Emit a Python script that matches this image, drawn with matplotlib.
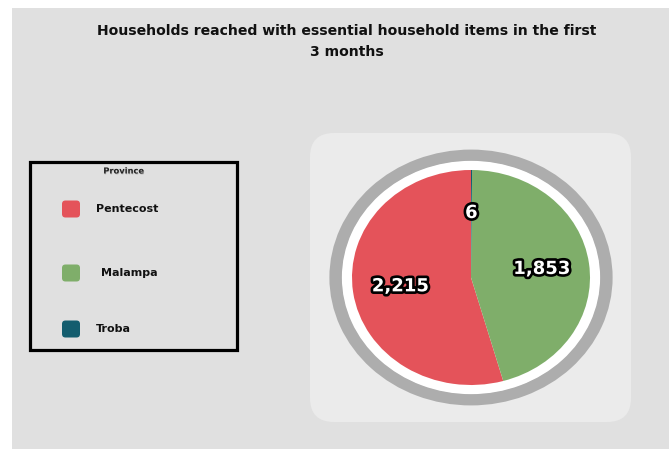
import matplotlib.pyplot as plt
import matplotlib.patheffects as pe
from matplotlib.patches import Rectangle, FancyBboxPatch
import numpy as np

provinces = ['Pentecost', 'Malampa', 'Troba']
households = [2215, 1853, 6]
colors = ['#e4535a', '#7fae6a', '#135d6e']
title = 'Households reached with essential household items in the first\n3 months'

W, H = 671, 449
fig = plt.figure(figsize=(W / 100, H / 100), dpi=100, facecolor='white')

# background layer in pixel coordinates
bg = fig.add_axes([0, 0, 1, 1])
bg.set_xlim(0, W)
bg.set_ylim(H, 0)
bg.axis('off')
bg.add_patch(Rectangle((12, 8), 657, 441, facecolor='#e0e0e0', edgecolor='none'))
bg.add_patch(FancyBboxPatch((310, 133), 321, 289, boxstyle='round,pad=0,rounding_size=24',
                            facecolor='#ebebeb', edgecolor='none'))

bg.text(347, 41.5, title, ha='center', va='center', fontsize=10.1, fontweight='bold',
        color='#111111', linespacing=1.6)

# legend box
bg.add_patch(Rectangle((30, 162), 207, 188, facecolor='none', edgecolor='black', linewidth=2.3))
bg.text(124, 171, 'Province', ha='center', va='center', fontsize=6, fontweight='bold',
        color='#222222',
        path_effects=[pe.withSimplePatchShadow(offset=(0.4, -0.6), shadow_rgbFace='#999999', alpha=0.6)])
leg_y = [209, 273, 329]
leg_x = [96, 101, 96]
for name, c, y, x in zip(provinces, colors, leg_y, leg_x):
    bg.add_patch(FancyBboxPatch((62, y - 8.5), 18, 17, boxstyle='round,pad=0,rounding_size=3.5',
                                facecolor=c, edgecolor='none'))
    bg.text(x, y, name, ha='left', va='center', fontsize=8, fontweight='bold', color='#111111')

# pie with grey ring, slightly wider than tall
cx, cy, rx, ry = 471, 277.5, 119, 107.5
s = 1.19
ax = fig.add_axes([(cx - rx * s) / W, 1 - (cy + ry * s) / H, 2 * rx * s / W, 2 * ry * s / H])
ax.pie([1], radius=1.19, colors=['#adadad'], wedgeprops=dict(width=0.11, linewidth=0))
ax.pie([1], radius=1.085, colors=['white'], wedgeprops=dict(linewidth=0))
wedges, _ = ax.pie(households, colors=colors, startangle=90, counterclock=True,
                   wedgeprops=dict(linewidth=0))
ax.set_aspect('auto')
ax.set_xlim(-s, s)
ax.set_ylim(-s, s)
ax.axis('off')

for w, v in zip(wedges, households):
    ang = np.deg2rad((w.theta1 + w.theta2) / 2)
    r = 0.6
    ax.text(r * np.cos(ang), r * np.sin(ang), f'{v:,}', ha='center', va='center',
            fontsize=13, fontweight='heavy', color='white',
            path_effects=[pe.withStroke(linewidth=3.8, foreground='black')])

fig.savefig('out.png', dpi=100, facecolor='white')
